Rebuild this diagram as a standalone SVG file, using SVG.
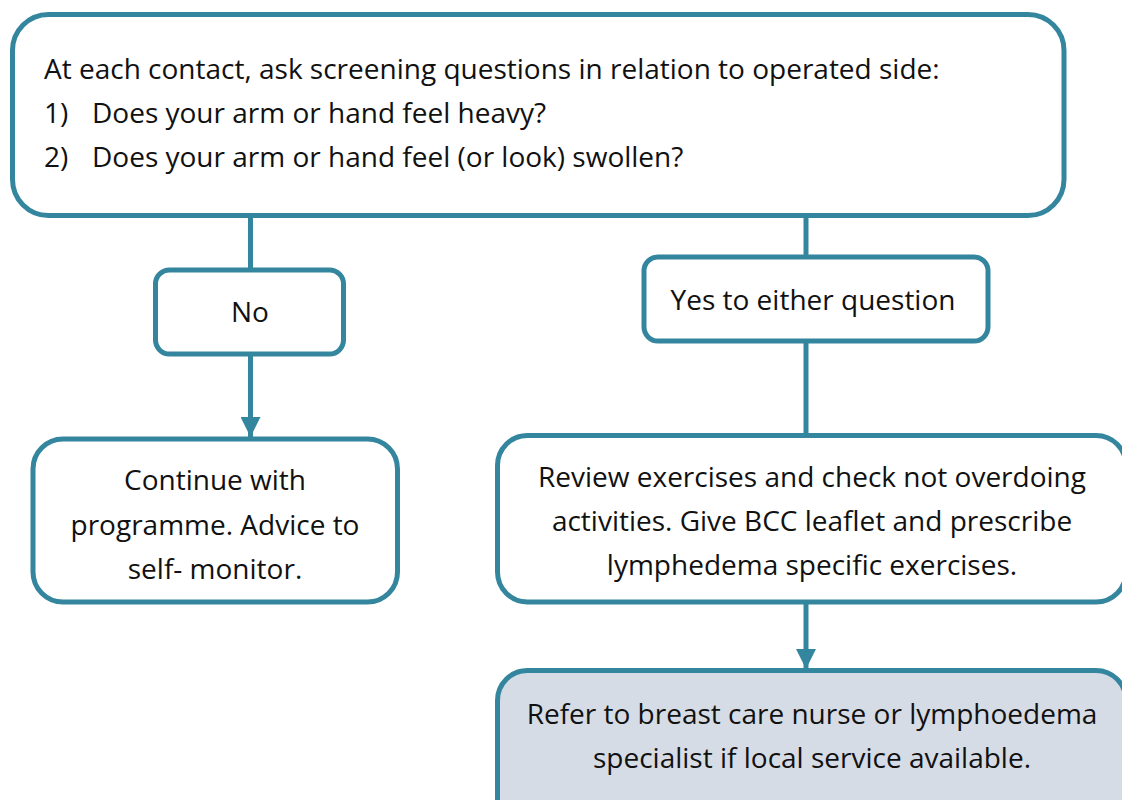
<svg xmlns="http://www.w3.org/2000/svg" width="1122" height="800" viewBox="0 0 1122 800">
  <style>
    .box { fill: #ffffff; stroke: #34869e; stroke-width: 5; }
    .refer { fill: #d6dce5; }
    .line { stroke: #34869e; stroke-width: 5; fill: none; }
    text { font-family: "Open Sans", "Noto Sans", sans-serif; font-size: 28px; fill: #111111; }
    .c { text-anchor: middle; }
  </style>
  <defs>
    <marker id="arrow" markerWidth="4" markerHeight="4" refX="4" refY="2" orient="auto" markerUnits="strokeWidth">
      <path d="M0,0 L4,2 L0,4 Z" fill="#34869e"/>
    </marker>
  </defs>

  <g id="connectors">
    <line class="line" x1="250.5" y1="216" x2="250.5" y2="270"/>
    <line class="line" x1="250.5" y1="354" x2="250.5" y2="437" marker-end="url(#arrow)"/>
    <line class="line" x1="806" y1="216" x2="806" y2="257"/>
    <line class="line" x1="806" y1="341" x2="806" y2="436"/>
    <line class="line" x1="806" y1="602" x2="806" y2="669" marker-end="url(#arrow)"/>
  </g>

  <g id="screening">
    <rect class="box" x="12.5" y="14.5" width="1051.5" height="201" rx="36"/>
    <text x="44" y="79">At each contact, ask screening questions in relation to operated side:</text>
    <text x="44" y="123">1)</text>
    <text x="92" y="123">Does your arm or hand feel heavy?</text>
    <text x="44" y="167">2)</text>
    <text x="92" y="167">Does your arm or hand feel (or look) swollen?</text>
  </g>

  <g id="no">
    <rect class="box" x="155.5" y="270" width="188" height="84" rx="14"/>
    <text class="c" x="250" y="322">No</text>
  </g>

  <g id="yes">
    <rect class="box" x="644" y="257" width="344" height="84" rx="14"/>
    <text class="c" x="813" y="310">Yes to either question</text>
  </g>

  <g id="continue">
    <rect class="box" x="33" y="439" width="364.5" height="163" rx="30"/>
    <text class="c" x="215" y="490">Continue with</text>
    <text class="c" x="215" y="535">programme. Advice to</text>
    <text class="c" x="215" y="579">self- monitor.</text>
  </g>

  <g id="review">
    <rect class="box" x="497.5" y="435.5" width="628.5" height="166.5" rx="30"/>
    <text class="c" x="812" y="487">Review exercises and check not overdoing</text>
    <text class="c" x="812" y="531">activities. Give BCC leaflet and prescribe</text>
    <text class="c" x="812" y="575">lymphedema specific exercises.</text>
  </g>

  <g id="refer">
    <rect class="box refer" x="497.5" y="670.5" width="628.5" height="160" rx="30"/>
    <text class="c" x="812" y="724">Refer to breast care nurse or lymphoedema</text>
    <text class="c" x="812" y="768">specialist if local service available.</text>
  </g>
</svg>
